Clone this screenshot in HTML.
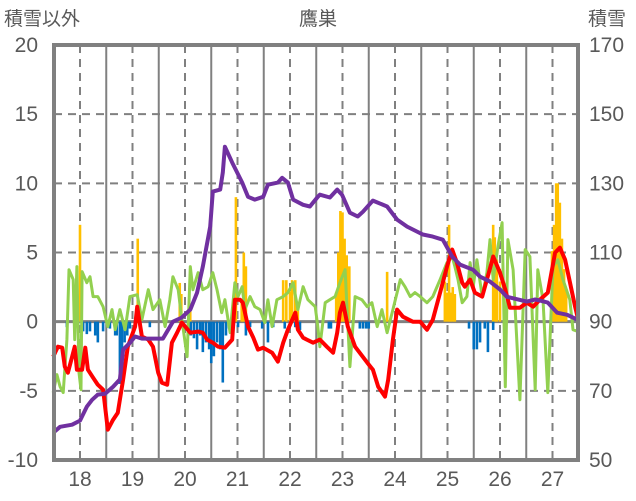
<!DOCTYPE html>
<html><head><meta charset="utf-8"><style>
html,body{margin:0;padding:0;background:#fff;}
svg{display:block;font-family:"Liberation Sans","Noto Sans CJK JP",sans-serif;}
</style></head><body>
<svg id="chart" width="636" height="501" viewBox="0 0 636 501" xmlns="http://www.w3.org/2000/svg">
<text x="4" y="25" font-size="19" fill="#595959" font-family="Liberation Sans, Noto Sans CJK JP, sans-serif">積雪以外</text>
<text x="318" y="25" font-size="19" fill="#595959" text-anchor="middle" font-family="Liberation Sans, Noto Sans CJK JP, sans-serif">鷹巣</text>
<text x="588" y="25" font-size="19" fill="#595959" font-family="Liberation Sans, Noto Sans CJK JP, sans-serif">積雪</text>
<g id="grid"></g><g id="bars"></g><g id="lines"></g><g id="axes"></g>
</svg>
<script>
const yearTicks=[18,19,20,21,22,23,24,25,26,27];
const leftTicks=[20,15,10,5,0,-5,-10];
const rightTicks=[170,150,130,110,90,70,50];
const orangeT=[18.0,19.10,19.90,19.93,20.10,20.97,21.08,21.12,21.16,21.87,21.93,22.0,22.04,22.10,22.15,22.88,22.92,22.96,23.0,23.04,23.08,23.13,23.85,24.95,24.99,25.03,25.06,25.10,25.14,25.87,25.90,25.94,26.0,26.13,26.99,27.03,27.07,27.10,27.14,27.18,27.22,27.26];
const orangeV=[7.0,6.0,2.8,2.0,1.0,9.0,1.5,5.0,4.0,3.0,3.0,2.2,3.0,3.0,1.0,2.1,5.0,8.0,7.9,6.0,4.8,4.0,3.6,2.9,2.1,7.0,2.1,2.5,2.0,7.0,6.1,4.5,2.9,2.9,5.1,7.0,10.0,10.0,8.6,6.0,3.8,2.3];
const blueT=[17.75,17.94,18.06,18.13,18.19,18.29,18.34,18.44,18.57,18.67,18.70,18.76,18.80,18.85,18.90,18.95,19.33,20.06,20.11,20.17,20.23,20.29,20.34,20.40,20.46,20.50,20.55,20.61,20.67,20.72,20.78,20.84,21.01,21.16,21.24,21.47,21.58,21.68,21.90,22.10,22.19,22.74,22.78,23.33,23.39,23.45,23.50,25.41,25.50,25.56,25.62,25.71,25.77,25.87];
const blueV=[-0.4,-0.4,-0.7,-0.9,-0.7,-1.0,-1.5,-0.7,-0.5,-1.0,-1.0,-4.5,-4.3,-1.5,-1.0,-0.5,-0.4,-0.5,-1.0,-1.2,-2.0,-1.0,-2.2,-1.5,-2.0,-3.0,-2.5,-1.5,-2.0,-4.4,-1.0,-0.5,-0.4,-1.0,-0.4,-0.5,-1.5,-0.4,-0.5,-0.4,-0.6,-0.5,-0.5,-0.5,-0.5,-0.5,-0.5,-0.5,-2.0,-2.0,-1.5,-0.5,-2.2,-0.6];
const greenT=[17.49,17.56,17.62,17.68,17.75,17.79,17.87,17.90,17.94,17.98,18.02,18.04,18.13,18.19,18.25,18.34,18.44,18.53,18.61,18.67,18.76,18.86,18.95,19.09,19.18,19.30,19.39,19.52,19.62,19.71,19.77,19.87,19.94,20.04,20.10,20.15,20.25,20.34,20.44,20.53,20.61,20.70,20.76,20.86,20.95,21.01,21.09,21.14,21.24,21.33,21.43,21.52,21.58,21.66,21.75,21.87,21.96,22.06,22.15,22.25,22.34,22.48,22.53,22.57,22.67,22.76,22.86,22.95,23.05,23.14,23.24,23.37,23.47,23.56,23.66,23.75,23.85,23.96,24.10,24.19,24.29,24.38,24.48,24.61,24.72,24.86,24.99,25.09,25.14,25.20,25.28,25.37,25.43,25.49,25.56,25.66,25.75,25.81,25.87,25.96,26.04,26.10,26.15,26.25,26.38,26.48,26.57,26.67,26.72,26.82,26.91,27.01,27.10,27.20,27.33,27.39,27.49];
const greenV=[-5.13,-3.83,-4.70,-5.13,-1.30,3.76,3.04,-1.30,3.98,-3.69,-4.92,3.62,2.82,3.25,1.81,1.81,1.08,-0.36,0.87,-0.58,0.87,-0.58,1.81,1.95,0.14,2.31,0.87,1.59,-0.36,1.59,3.25,2.31,0.14,-2.53,3.98,2.31,3.54,2.31,2.53,3.54,2.31,0.65,1.59,-0.80,2.82,1.81,2.53,0.87,1.81,1.08,0.87,-0.07,1.59,-0.36,1.59,1.81,2.10,2.82,0.87,2.53,1.59,1.08,-0.36,-1.81,1.37,1.59,1.81,2.82,3.76,-3.25,1.81,1.59,1.08,1.37,-0.36,0.87,-0.80,0.87,3.04,2.53,1.81,2.10,1.81,1.37,1.81,3.04,4.27,4.70,3.98,3.04,1.37,1.81,4.27,2.53,4.48,1.81,3.54,5.93,3.04,5.42,7.16,-4.70,5.93,3.76,-5.64,5.21,4.70,-4.92,3.76,1.59,-5.13,3.98,4.48,3.04,1.59,-0.58,-0.72];
const redT=[17.49,17.58,17.66,17.71,17.77,17.85,17.90,17.94,18.04,18.10,18.15,18.25,18.34,18.44,18.53,18.63,18.72,18.82,18.91,19.05,19.09,19.18,19.30,19.39,19.49,19.56,19.66,19.75,19.85,19.94,20.10,20.25,20.34,20.42,20.53,20.63,20.76,20.90,20.95,21.05,21.10,21.20,21.30,21.39,21.49,21.66,21.77,21.87,21.96,22.10,22.15,22.25,22.32,22.44,22.57,22.70,22.82,22.90,22.95,23.01,23.10,23.24,23.47,23.58,23.68,23.81,23.87,23.96,24.04,24.15,24.34,24.48,24.61,24.72,24.86,24.99,25.09,25.18,25.28,25.33,25.43,25.52,25.66,25.75,25.87,26.00,26.10,26.19,26.38,26.51,26.63,26.76,26.91,27.05,27.14,27.24,27.33,27.43,27.49];
const redV=[-2.53,-1.81,-1.88,-3.25,-3.69,-2.53,-1.81,-3.47,-3.47,-1.88,-3.47,-4.05,-4.56,-4.92,-7.81,-7.09,-6.58,-4.19,-1.81,-0.36,1.08,-1.08,-1.30,-1.81,-3.69,-4.41,-4.56,-1.52,-0.80,-0.07,-0.80,-0.72,-0.80,-1.30,-1.52,-1.81,-1.88,-1.30,1.59,1.59,1.37,-0.36,-1.16,-2.02,-1.88,-2.24,-2.89,-1.52,-0.58,0.65,-0.58,-1.16,-1.30,-1.52,-1.30,-1.81,-2.24,-0.80,0.65,1.37,-0.36,-1.81,-2.96,-3.47,-4.70,-5.42,-4.19,-1.30,0.87,0.36,0,0,-0.58,0.14,2.10,3.98,5.21,4.27,2.82,2.53,3.04,2.10,1.81,3.04,4.70,3.54,2.31,1.01,1.01,1.37,1.08,1.59,2.10,4.99,5.35,4.48,2.89,1.08,0.14];
const snowT=[17.49,17.62,17.85,18.0,18.13,18.23,18.34,18.48,18.63,18.76,18.82,18.95,19.05,19.18,19.58,19.77,19.94,20.10,20.23,20.34,20.48,20.53,20.67,20.72,20.76,20.90,21.09,21.2,21.33,21.49,21.58,21.77,21.85,21.96,22.06,22.25,22.38,22.53,22.57,22.76,22.90,22.99,23.14,23.29,23.39,23.58,23.85,24.04,24.23,24.53,24.72,24.91,25.09,25.24,25.49,25.62,25.81,26.0,26.13,26.51,26.67,26.76,26.91,27.09,27.28,27.47];
const snowV=[57.9,59.6,60.2,61.4,65.4,67.4,68.9,69.2,71.2,73.3,81.9,83.9,85.7,85.1,85.1,90,91.2,93.5,98.4,105.9,117.5,127.6,128.2,133.1,140.6,136,130.2,126.1,125.3,126.1,129.6,130.2,131.6,130.2,125.3,123.8,123.3,126.1,126.7,125.9,128.2,126.7,121.5,120.4,121.8,125,123.3,119.5,117.5,115.2,114.6,113.7,108.8,106.5,105,103,101.6,99.3,97.2,95.8,96.4,96.1,95.5,92.6,92,90.6];

const L=54,R=578,T=45,B=460;
const X=t=>80+(t-18)*52.5;
const YL=v=>T+(20-v)*(B-T)/30;
const YR=v=>T+(170-v)*(B-T)/120;
const NS='http://www.w3.org/2000/svg';
function mk(tag,parent,attrs){const e=document.createElementNS(NS,tag);for(const k in attrs)e.setAttribute(k,attrs[k]);parent.appendChild(e);return e;}
const grid=document.getElementById('grid'),bars=document.getElementById('bars'),lines=document.getElementById('lines'),axes=document.getElementById('axes');

leftTicks.forEach(v=>{
  if(v===20||v===-10||v===0)return;
  const g=mk('line',grid,{x1:L,x2:R,y1:YL(v),y2:YL(v),stroke:'#808080','stroke-width':2,'stroke-dasharray':'8,6'});
  
  
});
yearTicks.forEach(t=>{
  const d=mk('line',grid,{x1:X(t),x2:X(t),y1:T,y2:B,stroke:'#808080','stroke-width':2,'stroke-dasharray':'8,6'});
  
  
  if(X(t+0.5)<R){
    const s=mk('line',grid,{x1:X(t+0.5),x2:X(t+0.5),y1:T,y2:B,stroke:'#808080','stroke-width':2});
    
    
  }
});
orangeT.forEach((t,i)=>{
  const y=YL(orangeV[i]);
  const r=mk('rect',bars,{x:X(t)-1.3,y:y,width:2.6,height:YL(0)-y,fill:'#FFC000'});
  
  
});
blueT.forEach((t,i)=>{
  const y=YL(blueV[i]);
  const r=mk('rect',bars,{x:X(t)-1.3,y:YL(0),width:2.6,height:y-YL(0),fill:'#0070C0'});
  
  
});
const zl=mk('line',grid,{x1:L,x2:R,y1:YL(0),y2:YL(0),stroke:'#808080','stroke-width':3});


function poly(ts,vs,yf,color,w,name){
  const p=mk('polyline',lines,{points:ts.map((t,i)=>X(t).toFixed(1)+','+yf(vs[i]).toFixed(1)).join(' '),fill:'none',stroke:color,'stroke-width':w,'stroke-linejoin':'round'});
  
  
}
poly(greenT,greenV,YL,'#92D050',3,'green-series-line');
poly(redT,redV,YL,'#FF0000',4,'red-series-line');
poly(snowT,snowV,YR,'#7030A0',4,'snow-depth-line');
const fr=mk('rect',axes,{x:L,y:T,width:R-L,height:B-T,fill:'none',stroke:'#808080','stroke-width':4});


leftTicks.forEach(v=>{
  const e=mk('text',axes,{x:38,y:YL(v)+7,'font-size':21,fill:'#595959','text-anchor':'end'});
  e.textContent=v;
  
  
});
rightTicks.forEach(v=>{
  const e=mk('text',axes,{x:589,y:YR(v)+7,'font-size':21,fill:'#595959'});
  e.textContent=v;
  
  
});
yearTicks.forEach(t=>{
  const e=mk('text',axes,{x:X(t),y:486,'font-size':21,fill:'#595959','text-anchor':'middle'});
  e.textContent=t;
  
  
});
</script>
</body></html>
